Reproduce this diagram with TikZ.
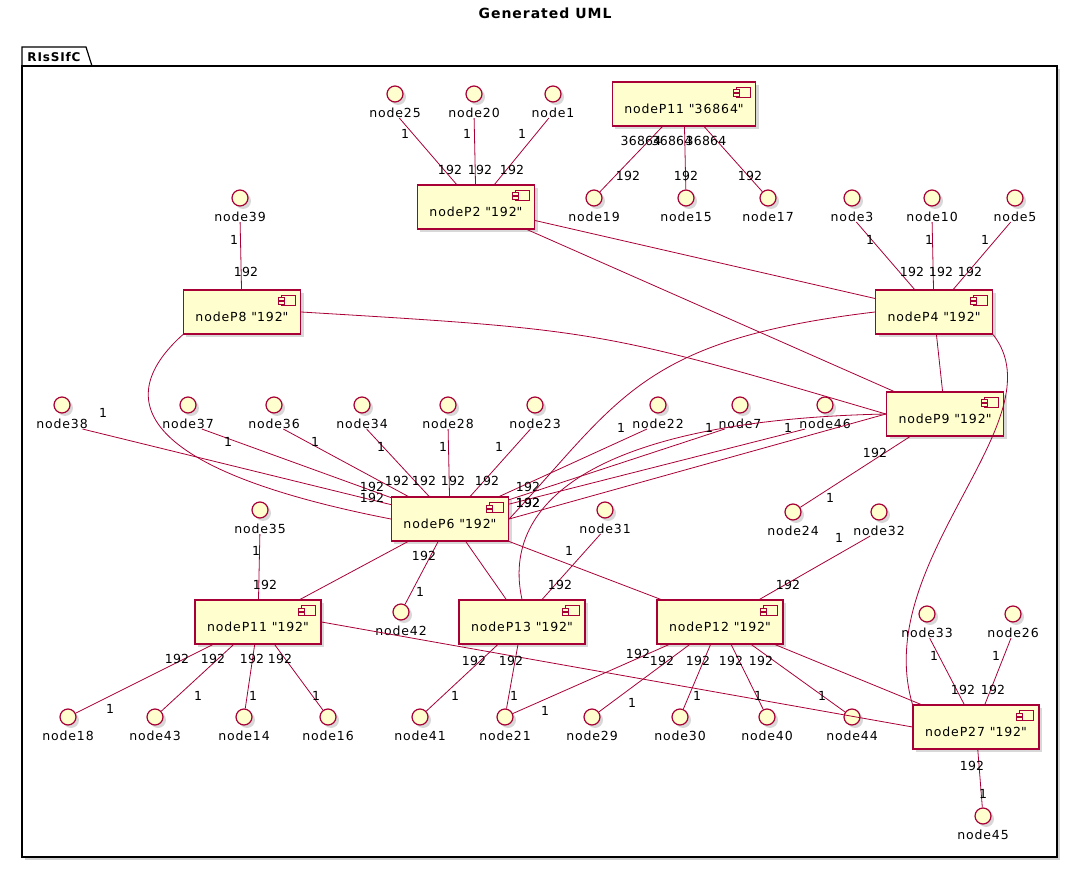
\documentclass[tikz,border=0pt]{standalone}
\usepackage{fontspec}
\setmainfont{DejaVu Sans}[LetterSpace=7]
\usetikzlibrary{shadows}
\definecolor{umlfill}{HTML}{FEFECE}
\definecolor{umlline}{HTML}{A80036}
\tikzset{
  shd/.style={drop shadow={opacity=0.3,shadow xshift=3pt,shadow yshift=-3pt}},
  comp/.style={rectangle, draw=umlline, fill=umlfill, line width=1.2pt, minimum height=44pt, inner xsep=12pt, shd, font=\fontsize{12.5}{14}\selectfont},
  iface/.style={circle, draw=umlline, fill=umlfill, line width=1.2pt, minimum size=16pt, inner sep=0pt, shd},
  iname/.style={inner sep=0pt, font=\fontsize{12.5}{14}\selectfont},
  lbl/.style={inner sep=0pt, font=\fontsize{12.5}{14}\selectfont\addfontfeature{LetterSpace=2}},
  edge/.style={draw=umlline, line width=0.8pt}
}
\newcommand{\qq}{\textquotedbl}
% component with its icon
\newcommand{\comp}[4]{%
  \node[comp] (#1) at (#2,#3) {\raisebox{-5pt}[\height][\depth]{#4}};
  \draw[umlline, fill=umlfill, line width=0.8pt] ([shift={(-20,6)}]#1.north east) rectangle ([shift={(-6,16)}]#1.north east);
  \draw[umlline, fill=umlfill, line width=0.8pt] ([shift={(-23,8.5)}]#1.north east) rectangle ([shift={(-17,11.5)}]#1.north east);
  \draw[umlline, fill=umlfill, line width=0.8pt] ([shift={(-23,12.5)}]#1.north east) rectangle ([shift={(-17,15.5)}]#1.north east);}
% interface circle with its name
\newcommand{\iface}[3]{%
  \node[iface] (#1) at (#2,#3) {};
  \node[iname] (#1l) at (#2,#3+19) {#1};}
% link with two end labels
\newcommand{\lk}[6]{\draw[edge] (#1) -- (#2) node[lbl] at #4 {#3} node[lbl] at #6 {#5};}
\begin{document}
\begin{tikzpicture}[x=1pt,y=-1pt]
\useasboundingbox (0,0) rectangle (1090,882);
\node[font=\bfseries\fontsize{14}{16}\selectfont] (title) at (545,13) {Generated UML};

% package
\fill[black!30,opacity=0.6] (25,69) rectangle (1060,860);
\draw[line width=1.2pt, fill=white] (22,66) -- (22,47) -- (86,47) -- (92,66) -- cycle;
\draw[line width=1.2pt, fill=white] (22,66) rectangle (1057,857);
\node[font=\bfseries\fontsize{12}{14}\selectfont, inner sep=0pt] (pkg) at (54,57) {RIsSIfC};

% components
\comp{pA}{684}{104}{nodeP11 \qq36864\qq}
\comp{p2}{476}{207}{nodeP2 \qq192\qq}
\comp{p8}{242}{312}{nodeP8 \qq192\qq}
\comp{p4}{934}{312}{nodeP4 \qq192\qq}
\comp{p9}{945}{414}{nodeP9 \qq192\qq}
\comp{p6}{450}{519}{nodeP6 \qq192\qq}
\comp{pB}{258}{622}{nodeP11 \qq192\qq}
\comp{p13}{522}{622}{nodeP13 \qq192\qq}
\comp{p12}{720}{622}{nodeP12 \qq192\qq}
\comp{p27}{976}{727}{nodeP27 \qq192\qq}

% interfaces
\iface{node25}{395}{94} \iface{node20}{474}{94} \iface{node1}{553}{94}
\iface{node19}{594}{198} \iface{node15}{686}{198} \iface{node17}{768}{198}
\iface{node39}{240}{198}
\iface{node3}{852}{198} \iface{node10}{932}{198} \iface{node5}{1015}{198}
\iface{node38}{62}{405} \iface{node37}{188}{405} \iface{node36}{274}{405}
\iface{node34}{362}{405} \iface{node28}{448}{405} \iface{node23}{535}{405}
\iface{node22}{658}{405} \iface{node7}{740}{405} \iface{node46}{825}{405}
\iface{node24}{793}{512} \iface{node32}{879}{512}
\iface{node35}{260}{510} \iface{node31}{605}{510}
\iface{node42}{401}{612}
\iface{node33}{927}{614} \iface{node26}{1013}{614}
\iface{node18}{68}{717} \iface{node43}{155}{717} \iface{node14}{244}{717}
\iface{node16}{328}{717} \iface{node41}{420}{717} \iface{node21}{505}{717}
\iface{node29}{592}{717} \iface{node30}{680}{717} \iface{node40}{767}{717}
\iface{node44}{852}{717}
\iface{node45}{983}{816}

% plain links
\draw[edge] (p2) -- (p4);
\draw[edge] (p2) -- (p9);
\draw[edge] (p8.east) .. controls (600,330) .. (p9.west);
\draw[edge] (p4) -- (p9);
\draw[edge] (p8.south west) .. controls (110,400) and (140,470) .. (p6.west);
\draw[edge] (p4.west) .. controls (640,340) and (620,400) .. (p6.east);
\draw[edge] (p4.south east) .. controls (1060,420) and (870,560) .. (p27.north west);
\draw[edge] (p9.west) .. controls (600,420) and (500,500) .. (p13.north);
\draw[edge] (p9.west) -- (p6.east);
\draw[edge] (p6) -- (pB);
\draw[edge] (p6) -- (p13);
\draw[edge] (p6) -- (p12);
\draw[edge] (pB.east) -- (p27.west);
\draw[edge] (p12) -- (p27);

% labelled links
\lk{node25l}{p2}{1}{(405,134)}{192}{(450,170)}
\lk{node20l}{p2}{1}{(467,134)}{192}{(480,170)}
\lk{node1l}{p2}{1}{(522,134)}{192}{(512,170)}
\lk{pA}{node19}{36864}{(641,141)}{192}{(628,176)}
\lk{pA}{node15}{36864}{(672,141)}{192}{(686,176)}
\lk{pA}{node17}{36864}{(706,141)}{192}{(750,176)}
\lk{node39l}{p8}{1}{(234,240)}{192}{(246,272)}
\lk{node3l}{p4}{1}{(870,240)}{192}{(912,272)}
\lk{node10l}{p4}{1}{(929,240)}{192}{(941,272)}
\lk{node5l}{p4}{1}{(985,240)}{192}{(970,272)}
\lk{p9}{node24}{192}{(875,453)}{1}{(830,498)}
\lk{node38l}{p6}{1}{(103,413)}{192}{(372,498)}
\lk{node37l}{p6}{1}{(228,442)}{192}{(372,487)}
\lk{node36l}{p6}{1}{(315,442)}{192}{(397,481)}
\lk{node34l}{p6}{1}{(381,447)}{192}{(424,481)}
\lk{node28l}{p6}{1}{(443,447)}{192}{(453,481)}
\lk{node23l}{p6}{1}{(499,447)}{192}{(487,481)}
\lk{node22l}{p6}{1}{(621,428)}{192}{(528,487)}
\lk{node7l}{p6}{1}{(709,428)}{192}{(528,503)}
\lk{node46l}{p6}{1}{(788,428)}{192}{(528,503)}
\lk{p6}{node42}{192}{(424,556)}{1}{(420,592)}
\lk{node35l}{pB}{1}{(256,551)}{192}{(265,585)}
\lk{node31l}{p13}{1}{(569,551)}{192}{(560,585)}
\lk{node32l}{p12}{1}{(839,538)}{192}{(788,585)}
\lk{pB}{node18}{192}{(177,659)}{1}{(110,709)}
\lk{pB}{node43}{192}{(213,659)}{1}{(198,696)}
\lk{pB}{node14}{192}{(252,659)}{1}{(253,696)}
\lk{pB}{node16}{192}{(280,659)}{1}{(316,696)}
\lk{p13}{node41}{192}{(474,661)}{1}{(455,696)}
\lk{p13}{node21}{192}{(511,661)}{1}{(514,696)}
\lk{p12}{node21}{192}{(638,654)}{1}{(545,711)}
\lk{p12}{node29}{192}{(662,661)}{1}{(632,703)}
\lk{p12}{node30}{192}{(698,661)}{1}{(697,696)}
\lk{p12}{node40}{192}{(731,661)}{1}{(758,696)}
\lk{p12}{node44}{192}{(761,661)}{1}{(822,696)}
\lk{node33l}{p27}{1}{(934,656)}{192}{(963,690)}
\lk{node26l}{p27}{1}{(996,656)}{192}{(993,690)}
\lk{p27}{node45}{192}{(972,766)}{1}{(983,794)}
\end{tikzpicture}
\end{document}
